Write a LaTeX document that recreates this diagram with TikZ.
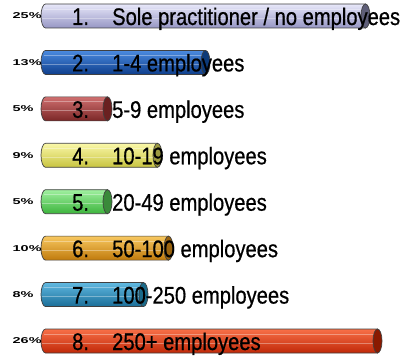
\documentclass[tikz,border=0pt]{standalone}
\usepackage{fontspec}
\setmainfont{Liberation Sans}
\newfontfamily\barfont{Liberation Sans}[FakeStretch=0.84, FakeBold=0.6]
\usetikzlibrary{positioning}

\definecolor{bodyA}{HTML}{C4C4EE}\definecolor{lightA}{HTML}{E8E8FA}\definecolor{darkA}{HTML}{9696C4}\definecolor{capA}{HTML}{5E5E78}
\definecolor{bodyB}{HTML}{1E62C8}\definecolor{lightB}{HTML}{4A8AE0}\definecolor{darkB}{HTML}{0E3E8C}\definecolor{capB}{HTML}{0C3A78}
\definecolor{bodyC}{HTML}{B04646}\definecolor{lightC}{HTML}{D07070}\definecolor{darkC}{HTML}{7A2626}\definecolor{capC}{HTML}{6A2020}
\definecolor{bodyD}{HTML}{F0EC6A}\definecolor{lightD}{HTML}{FAF8A8}\definecolor{darkD}{HTML}{C8C440}\definecolor{capD}{HTML}{9C9A40}
\definecolor{bodyE}{HTML}{66E066}\definecolor{lightE}{HTML}{A0F0A0}\definecolor{darkE}{HTML}{3CB43C}\definecolor{capE}{HTML}{3A8A3A}
\definecolor{bodyF}{HTML}{F0A020}\definecolor{lightF}{HTML}{F8C860}\definecolor{darkF}{HTML}{C07A0C}\definecolor{capF}{HTML}{9A6410}
\definecolor{bodyG}{HTML}{2A98C8}\definecolor{lightG}{HTML}{60B8E0}\definecolor{darkG}{HTML}{1A6E98}\definecolor{capG}{HTML}{1A6A8A}
\definecolor{bodyH}{HTML}{F04018}\definecolor{lightH}{HTML}{F87048}\definecolor{darkH}{HTML}{C02808}\definecolor{capH}{HTML}{8A1A00}

\begin{document}
\begin{tikzpicture}[
    x=1pt, y=1pt,
    pctlabel/.style={anchor=west, inner sep=0pt, font=\bfseries\fontsize{8.5}{8.5}\selectfont},
    barlabel/.style={anchor=base west, inner sep=0pt, font=\barfont\fontsize{24}{24}\selectfont},
    outline/.style={draw=black!75, line width=0.7pt},
    stripe/.style={white, opacity=0.35, line width=0.8pt}
]
    \useasboundingbox (0,0) rectangle (402,358);

    % Cylinders: percent / right end / colour / text
    \foreach \p/\r/\c/\t [count=\i] in {
        25/370/A/{Sole practitioner / no employees},
        13/210/B/{1-4 employees},
        5/112/C/{5-9 employees},
        9/162/D/{10-19 employees},
        5/112/E/{20-49 employees},
        10/173/F/{50-100 employees},
        8/148/G/{100-250 employees},
        26/382/H/{250+ employees}}
    {
        \pgfmathsetmacro\cy{342-(\i-1)*46.43}
        % body
        \path[outline, shading=axis, top color=light\c, middle color=body\c, bottom color=dark\c]
            (45.5,\cy+12) -- (\r-4.5,\cy+12) -- (\r-4.5,\cy-12) -- (45.5,\cy-12)
            arc[start angle=270, end angle=90, x radius=4.5, y radius=12] -- cycle;
        \draw[stripe] (44,\cy+7) -- (\r-6,\cy+7);
        \draw[stripe] (42,\cy-2) -- (\r-6,\cy-2);
        % end cap
        \path[outline, fill=cap\c] (\r-4.5,\cy) ellipse[x radius=4.5, y radius=12];
        % labels
        \node[pctlabel] (pct\i) at (12.5,\cy) {\scalebox{1.7}[1]{\p\%}};
        \node[barlabel] (num\i) at (72,\cy-9) {\i.};
        \node[barlabel] (lab\i) at (112,\cy-9) {\t};
    }
\end{tikzpicture}
\end{document}
